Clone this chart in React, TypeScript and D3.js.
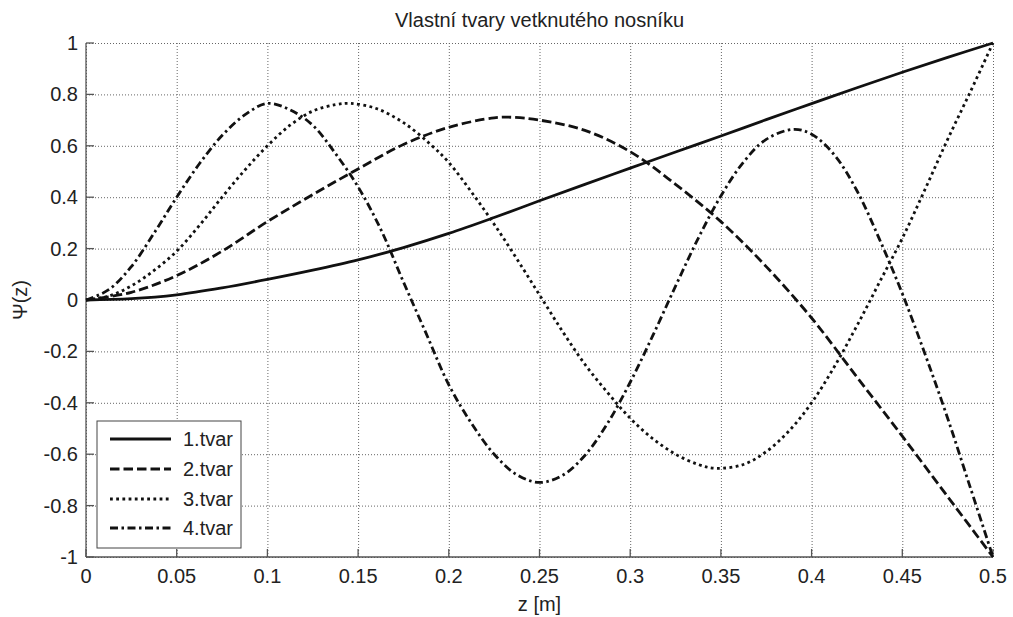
import React from "react";
import * as d3 from "d3";

const title = "Vlastní tvary vetknutého nosníku";
const xLabel = "z [m]";
const yLabel = "Ψ(z)";

const xTicks = [0, 0.05, 0.1, 0.15, 0.2, 0.25, 0.3, 0.35, 0.4, 0.45, 0.5];
const yTicks = [-1, -0.8, -0.6, -0.4, -0.2, 0, 0.2, 0.4, 0.6, 0.8, 1];

const mode1Z = [0, 0.025, 0.05, 0.075, 0.1, 0.125, 0.15, 0.175, 0.2, 0.225, 0.25, 0.275, 0.3, 0.325, 0.35, 0.375, 0.4, 0.425, 0.45, 0.475, 0.5];
const mode1Psi = [0, 0.005, 0.02, 0.047, 0.08, 0.116, 0.156, 0.204, 0.259, 0.321, 0.386, 0.45, 0.513, 0.576, 0.638, 0.702, 0.764, 0.826, 0.886, 0.944, 1];

const mode2Z = [0, 0.025, 0.05, 0.075, 0.1, 0.125, 0.15, 0.175, 0.2, 0.225, 0.235, 0.25, 0.275, 0.3, 0.325, 0.35, 0.375, 0.4, 0.425, 0.45, 0.475, 0.5];
const mode2Psi = [0, 0.03, 0.095, 0.19, 0.305, 0.41, 0.51, 0.605, 0.672, 0.709, 0.711, 0.7, 0.66, 0.577, 0.45, 0.305, 0.13, -0.07, -0.3, -0.53, -0.765, -1];

const mode3Z = [0, 0.0125, 0.025, 0.0375, 0.05, 0.0625, 0.075, 0.0875, 0.1, 0.1125, 0.125, 0.1375, 0.1455, 0.16, 0.175, 0.19, 0.2, 0.2125, 0.225, 0.2375, 0.25, 0.2625, 0.275, 0.2875, 0.3, 0.3125, 0.325, 0.3375, 0.347, 0.3625, 0.375, 0.3875, 0.4, 0.4125, 0.425, 0.4375, 0.45, 0.4625, 0.475, 0.4875, 0.5];
const mode3Psi = [0, 0.015, 0.055, 0.115, 0.19, 0.29, 0.4, 0.505, 0.6, 0.68, 0.735, 0.76, 0.765, 0.745, 0.69, 0.605, 0.535, 0.42, 0.295, 0.16, 0.02, -0.12, -0.25, -0.36, -0.46, -0.54, -0.6, -0.64, -0.655, -0.64, -0.59, -0.51, -0.4, -0.26, -0.1, 0.07, 0.24, 0.43, 0.625, 0.81, 1];

const mode4Z = [0, 0.0125, 0.025, 0.0375, 0.05, 0.0625, 0.075, 0.0875, 0.1, 0.1125, 0.125, 0.1375, 0.15, 0.1625, 0.175, 0.1875, 0.2, 0.2125, 0.225, 0.2375, 0.25, 0.2625, 0.275, 0.2875, 0.3, 0.3125, 0.325, 0.3375, 0.35, 0.3625, 0.375, 0.39, 0.4, 0.4125, 0.425, 0.4375, 0.45, 0.4625, 0.475, 0.4875, 0.5];
const mode4Psi = [0, 0.04, 0.13, 0.26, 0.4, 0.53, 0.64, 0.72, 0.765, 0.74, 0.68, 0.57, 0.44, 0.275, 0.07, -0.13, -0.33, -0.48, -0.6, -0.68, -0.71, -0.683, -0.605, -0.48, -0.32, -0.138, 0.054, 0.24, 0.405, 0.537, 0.625, 0.664, 0.645, 0.565, 0.425, 0.235, 0.025, -0.21, -0.46, -0.73, -1];

const seriesNames = ["1.tvar", "2.tvar", "3.tvar", "4.tvar"];
const seriesZ = [mode1Z, mode2Z, mode3Z, mode4Z];
const seriesPsi = [mode1Psi, mode2Psi, mode3Psi, mode4Psi];
const seriesDash = ["none", "9.5,4", "2.8,3.4", "8,3.5,2.5,3.5"];

const W = 1013;
const H = 617;
const M = { left: 86, right: 993, top: 43, bottom: 557 };
const FONT = "'Liberation Sans', Arial, Helvetica, sans-serif";
const AXIS_COLOR = "#555";
const LINE_COLOR = "#111";

export default function App() {
  const x = d3.scaleLinear().domain([0, 0.5]).range([M.left, M.right]);
  const y = d3.scaleLinear().domain([-1, 1]).range([M.bottom, M.top]);

  const line = d3
    .line<[number, number]>()
    .x((d) => x(d[0]))
    .y((d) => y(d[1]))
    .curve(d3.curveCatmullRom.alpha(0.5));

  const fmt = (v: number) => (v === 0 ? "0" : String(v));

  const legend = { x0: 97, y0: 421, x1: 241, y1: 548 };
  const legendRows = [439, 469, 499, 528];

  return (
    <svg
      width={W}
      height={H}
      style={{ position: "absolute", left: 0, top: 0, background: "#fff" }}
      fontFamily={FONT}
    >
      <rect x={0} y={0} width={W} height={H} fill="#fff" />
      {/* grid */}
      <g stroke="#666" strokeWidth={1} strokeDasharray="1,2" fill="none">
        {xTicks.map((t) => (
          <line key={"gx" + t} x1={x(t) + 0.5} x2={x(t) + 0.5} y1={M.top} y2={M.bottom} />
        ))}
        {yTicks.map((t) => (
          <line key={"gy" + t} x1={M.left} x2={M.right} y1={y(t) + 0.5} y2={y(t) + 0.5} />
        ))}
      </g>
      {/* axes */}
      <g stroke={AXIS_COLOR} strokeWidth={1.3} fill="none">
        <line x1={M.left} x2={M.left} y1={M.top} y2={M.bottom} />
        <line x1={M.left} x2={M.right} y1={M.bottom} y2={M.bottom} />
        {xTicks.map((t) => (
          <line key={"tx" + t} x1={x(t)} x2={x(t)} y1={M.bottom} y2={M.bottom - 8} />
        ))}
        {yTicks.map((t) => (
          <line key={"ty" + t} x1={M.left} x2={M.left + 8} y1={y(t)} y2={y(t)} />
        ))}
      </g>
      {/* tick labels */}
      <g fontSize={20} fill="#222">
        {xTicks.map((t) => (
          <text key={"lx" + t} x={x(t)} y={583} textAnchor="middle">
            {fmt(t)}
          </text>
        ))}
        {yTicks.map((t) => (
          <text key={"ly" + t} x={M.left - 8} y={y(t)} dy="0.35em" textAnchor="end">
            {fmt(t)}
          </text>
        ))}
      </g>
      {/* series */}
      <g fill="none" stroke={LINE_COLOR} strokeWidth={2.8}>
        {seriesZ.map((zs, i) => (
          <path
            key={"s" + i}
            d={line(zs.map((z, j) => [z, seriesPsi[i][j]] as [number, number])) || ""}
            strokeDasharray={seriesDash[i]}
          />
        ))}
      </g>
      {/* labels */}
      <text x={(M.left + M.right) / 2} y={27} textAnchor="middle" fontSize={20} fill="#222">
        {title}
      </text>
      <text x={(M.left + M.right) / 2} y={611} textAnchor="middle" fontSize={20} fill="#222">
        {xLabel}
      </text>
      <text
        transform={`translate(27,${(M.top + M.bottom) / 2}) rotate(-90)`}
        textAnchor="middle"
        fontSize={20}
        fill="#222"
      >
        {yLabel}
      </text>
      {/* legend */}
      <rect
        x={legend.x0}
        y={legend.y0}
        width={legend.x1 - legend.x0}
        height={legend.y1 - legend.y0}
        fill="#fff"
        stroke="#444"
        strokeWidth={1}
      />
      {seriesNames.map((name, i) => (
        <g key={"lg" + i}>
          <line
            x1={110}
            x2={171}
            y1={legendRows[i]}
            y2={legendRows[i]}
            stroke={LINE_COLOR}
            strokeWidth={2.8}
            strokeDasharray={seriesDash[i]}
          />
          <text x={183} y={legendRows[i]} dy="0.35em" fontSize={20} fill="#222">
            {name}
          </text>
        </g>
      ))}
    </svg>
  );
}
